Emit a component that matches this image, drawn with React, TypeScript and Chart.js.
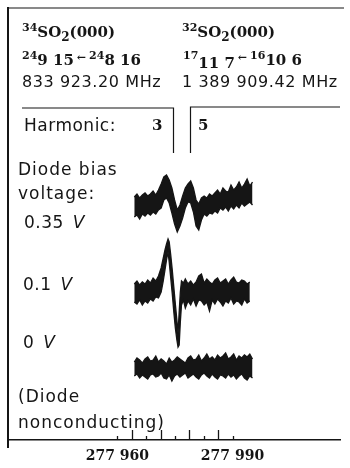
import React, { useEffect, useRef } from 'react';
import { Chart, registerables } from 'chart.js';

Chart.register(...registerables);

// ---------- data (frequency in MHz, signal in arbitrary units) ----------
const freqGrid = [
  277964.4, 277965.1, 277965.8, 277966.5, 277967.2, 277967.9, 277968.6, 277969.3, 277970.0, 277970.7,
  277971.4, 277972.1, 277972.8, 277973.5, 277974.2, 277974.9, 277975.6, 277976.3, 277977.0, 277977.7,
  277978.4, 277979.1, 277979.8, 277980.5, 277981.2, 277981.9, 277982.6, 277983.3, 277984.0, 277984.7,
  277985.4, 277986.1, 277986.8, 277987.5, 277988.2, 277988.9, 277989.6, 277990.3, 277991.0, 277991.7,
  277992.4, 277993.1, 277993.8, 277994.5, 277995.2,
];

// 0.35 V bias: upper / lower edge of the noisy trace
const top035 = [
  8, 11, 7, 10, 12, 9, 11, 14, 10, 15,
  21, 28, 30, 25, 17, 5, -5, 0, 9, 17,
  21, 24, 17, 5, 1, 7, 9, 7, 11, 9,
  12, 15, 11, 17, 14, 13, 20, 15, 18, 23,
  17, 21, 26, 19, 23,
];
const bot035 = [
  -12, -10, -14, -9, -11, -8, -10, -7, -9, -5,
  -3, 5, 7, 2, -8, -19, -27, -21, -13, -3,
  3, 2, -7, -21, -25, -15, -9, -11, -8, -9,
  -6, -8, -3, -5, -2, -6, -1, -4, 0, -3,
  2, -1, 1, 3, 0,
];

// 0.1 V bias
const freq01 = [
  277964.4, 277965.1, 277965.8, 277966.5, 277967.2, 277967.9, 277968.6, 277969.3, 277970.0, 277970.7,
  277971.4, 277971.9, 277972.4, 277972.8, 277973.2, 277973.5, 277973.9, 277974.3, 277974.7, 277975.1,
  277975.5, 277975.8, 277976.1, 277976.4, 277976.7, 277977.2, 277977.7, 277978.4, 277979.1, 277979.8,
  277980.5, 277981.2, 277981.9, 277982.6, 277983.3, 277984.0, 277984.7, 277985.4, 277986.1, 277986.8,
  277987.5, 277988.2, 277988.9, 277989.6, 277990.3, 277991.0, 277991.7, 277992.4, 277993.1, 277993.8,
  277994.5,
];
const top01 = [
  8, 11, 7, 10, 8, 12, 9, 14, 11, 16,
  24, 33, 42, 48, 53, 50, 37, 22, 5, -12,
  -28, -41, -20, 0, 11, 9, 13, 8, 11, 7,
  10, 16, 18, 9, 13, 10, 8, 12, 14, 9,
  11, 13, 8, 12, 15, 10, 9, 12, 11, 8,
  10,
];
const bot01 = [
  -10, -12, -8, -13, -9, -11, -7, -9, -5, -6,
  0, 10, 22, 32, 40, 30, 14, -2, -20, -36,
  -48, -55, -53, -30, -13, -8, -16, -9, -13, -7,
  -14, -8, -9, -13, -10, -19, -8, -12, -7, -10,
  -14, -9, -11, -6, -12, -9, -10, -13, -7, -11,
  -9,
];

// 0 V bias (diode nonconducting)
const top0 = [
  5, 9, 7, 4, 8, 10, 6, 7, 11, 5,
  8, 6, 3, 9, 5, 7, 10, 8, 6, 4,
  9, 11, 7, 8, 12, 6, 9, 13, 8, 10,
  7, 12, 9, 11, 14, 8, 10, 13, 7, 11,
  9, 12, 10, 13, 8,
];
const bot0 = [
  -9, -7, -11, -8, -10, -12, -8, -7, -10, -9,
  -6, -11, -12, -8, -14, -9, -7, -10, -8, -6,
  -11, -9, -7, -10, -12, -8, -6, -9, -11, -7,
  -10, -12, -8, -9, -11, -7, -10, -8, -12, -9,
  -7, -11, -13, -9, -11,
];

const traceLabels = ['0.35 V', '0.1 V', '0 V'];
const baselineLevels = [235, 148, 73]; // vertical offsets of the stacked traces (a.u.)

const tickValues = [277960, 277990];
const tickLabels = ['277 960', '277 990'];
const pipValues = [277960, 277963.75, 277967.5, 277971.25, 277975, 277978.75, 277982.5, 277986.25, 277990];
const pipMajor = [false, true, false, true, false, true, false, true, false];
const markerFreqs = [277974.4, 277978.9]; // 3rd harmonic of 34SO2 line, 5th harmonic of 32SO2 line
const X_MIN = 277931.5;
const X_MAX = 278018;

// ---------- styling ----------
const INK = '#151515';
const SANS = "'DejaVu Sans', sans-serif";
const SERIF = "'DejaVu Serif', serif";

const decorPlugin = {
  id: 'decor',
  afterDraw(chart: any) {
    const { ctx, chartArea: a, scales } = chart;
    const x = scales.x;
    ctx.save();
    ctx.strokeStyle = INK;
    // frame
    ctx.lineWidth = 2;
    ctx.beginPath();
    ctx.moveTo(a.left, a.top - 1);
    ctx.lineTo(a.left, a.bottom + 8);
    ctx.stroke();
    ctx.lineWidth = 1.2;
    ctx.beginPath();
    ctx.moveTo(a.left, a.top);
    ctx.lineTo(chart.width - 6, a.top);
    ctx.stroke();
    // frequency marker pips
    ctx.lineWidth = 1.3;
    pipValues.forEach((v, i) => {
      const px = Math.round(x.getPixelForValue(v)) + 0.5;
      const h = pipMajor[i] ? 10 : 4;
      ctx.beginPath();
      ctx.moveTo(px, a.bottom);
      ctx.lineTo(px, a.bottom - h);
      ctx.stroke();
    });
    // harmonic brackets
    const m0 = Math.round(x.getPixelForValue(markerFreqs[0])) + 0.5;
    const m1 = Math.round(x.getPixelForValue(markerFreqs[1])) + 0.5;
    const yb = a.top + 100;
    const ye = a.top + 145;
    ctx.lineWidth = 1.2;
    ctx.beginPath();
    ctx.moveTo(a.left + 14, yb);
    ctx.lineTo(m0, yb);
    ctx.lineTo(m0, ye);
    ctx.moveTo(m1, ye);
    ctx.lineTo(m1, yb - 1);
    ctx.lineTo(a.right, yb - 1);
    ctx.stroke();
    ctx.restore();
  },
};

type TProps = {
  x: number; y: number; size: number; family: string; weight?: number; ls?: number; children: React.ReactNode;
};
const T = ({ x, y, size, family, weight = 400, ls = 0, children }: TProps) => (
  <div
    style={{
      position: 'absolute', left: x, top: y - 0.846 * size, fontSize: size, lineHeight: `${size}px`,
      fontFamily: family, fontWeight: weight, letterSpacing: ls, whiteSpace: 'nowrap', color: INK,
    }}
  >
    {children}
  </div>
);
const Sup = ({ children, size = 11, up = 6 }: any) => (
  <span style={{ fontSize: size, position: 'relative', top: -up }}>{children}</span>
);
const Sub = ({ children, size = 12, down = 4 }: any) => (
  <span style={{ fontSize: size, position: 'relative', top: down }}>{children}</span>
);
const Arrow = () => (
  <span style={{ fontSize: 11, position: 'relative', top: -4, margin: '0 3px' }}>←</span>
);

export default function App() {
  const ref = useRef<HTMLCanvasElement>(null);

  useEffect(() => {
    if (!ref.current) return;
    const traces = [
      { f: freqGrid, top: top035, bot: bot035, base: baselineLevels[0] },
      { f: freq01, top: top01, bot: bot01, base: baselineLevels[1] },
      { f: freqGrid, top: top0, bot: bot0, base: baselineLevels[2] },
    ];
    const datasets: any[] = [];
    traces.forEach((t, i) => {
      datasets.push({
        label: traceLabels[i] + ' (upper)',
        data: t.f.map((f, j) => ({ x: f, y: t.base + t.top[j] })),
        borderColor: INK, borderWidth: 1.3, pointRadius: 0, tension: 0, fill: false,
      });
      datasets.push({
        label: traceLabels[i] + ' (lower)',
        data: t.f.map((f, j) => ({ x: f, y: t.base + t.bot[j] })),
        borderColor: INK, backgroundColor: INK, borderWidth: 1.3, pointRadius: 0, tension: 0, fill: '-1',
      });
    });

    const chart = new Chart(ref.current, {
      type: 'line',
      data: { datasets },
      options: {
        responsive: false,
        animation: false,
        devicePixelRatio: 1,
        layout: { padding: { top: 8, left: 8, right: 10, bottom: 0 } },
        plugins: { legend: { display: false }, tooltip: { enabled: false } },
        scales: {
          x: {
            type: 'linear',
            min: X_MIN,
            max: X_MAX,
            grid: { display: false, drawTicks: false },
            border: { display: true, color: INK, width: 1.5 },
            afterBuildTicks: (s: any) => { s.ticks = tickValues.map((v) => ({ value: v })); },
            afterFit: (s: any) => { s.height = 28; },
            ticks: {
              autoSkip: false, maxRotation: 0, padding: 8, color: INK,
              font: { family: SERIF, weight: 'bold', size: 14 },
              callback: (v: any) => tickLabels[tickValues.indexOf(Number(v))] ?? '',
            },
          },
          y: { display: false, min: 0, max: 432 },
        },
      } as any,
      plugins: [decorPlugin],
    });
    return () => chart.destroy();
  }, []);

  return (
    <div style={{ position: 'absolute', left: 0, top: 0, width: 350, height: 468, background: '#fff', overflow: 'hidden' }}>
      <canvas ref={ref} width={350} height={468} style={{ position: 'absolute', left: 0, top: 0 }} />

      {/* header: transitions */}
      <T x={22} y={38} size={15} family={SERIF} weight={700}>
        <Sup>34</Sup>SO<Sub>2</Sub>(000)
      </T>
      <T x={182} y={38} size={15} family={SERIF} weight={700}>
        <Sup>32</Sup>SO<Sub>2</Sub>(000)
      </T>
      <T x={22} y={66} size={15} family={SERIF} weight={700}>
        <Sup>24</Sup>9 15<Arrow /><Sup>24</Sup>8 16
      </T>
      <T x={183} y={66} size={15} family={SERIF} weight={700}>
        <Sup>17</Sup><span style={{ position: 'relative', top: 3 }}>11 7</span><Arrow /><Sup>16</Sup>10 6
      </T>
      <T x={22} y={88} size={16} family={SANS} ls={0.6}>833 923.20 MHz</T>
      <T x={182} y={88} size={16} family={SANS} ls={0.6}>1 389 909.42 MHz</T>

      {/* harmonic row */}
      <T x={24} y={131} size={17} family={SANS} ls={0.5}>Harmonic:</T>
      <T x={152} y={131} size={15} family={SERIF} weight={700}>3</T>
      <T x={198} y={131} size={15} family={SERIF} weight={700}>5</T>

      {/* left labels */}
      <T x={18} y={175} size={17} family={SANS} ls={1}>Diode bias</T>
      <T x={18} y={199} size={17} family={SANS} ls={1}>voltage:</T>
      <T x={24} y={228} size={17} family={SANS} ls={0.5}>0.35 <i style={{ marginLeft: 3 }}>V</i></T>
      <T x={23} y={290} size={17} family={SANS} ls={0.5}>0.1 <i style={{ marginLeft: 3 }}>V</i></T>
      <T x={23} y={348} size={17} family={SANS} ls={0.5}>0 <i style={{ marginLeft: 3 }}>V</i></T>
      <T x={18} y={402} size={17} family={SANS} ls={1}>(Diode</T>
      <T x={18} y={428} size={17} family={SANS} ls={1}>nonconducting)</T>
    </div>
  );
}
